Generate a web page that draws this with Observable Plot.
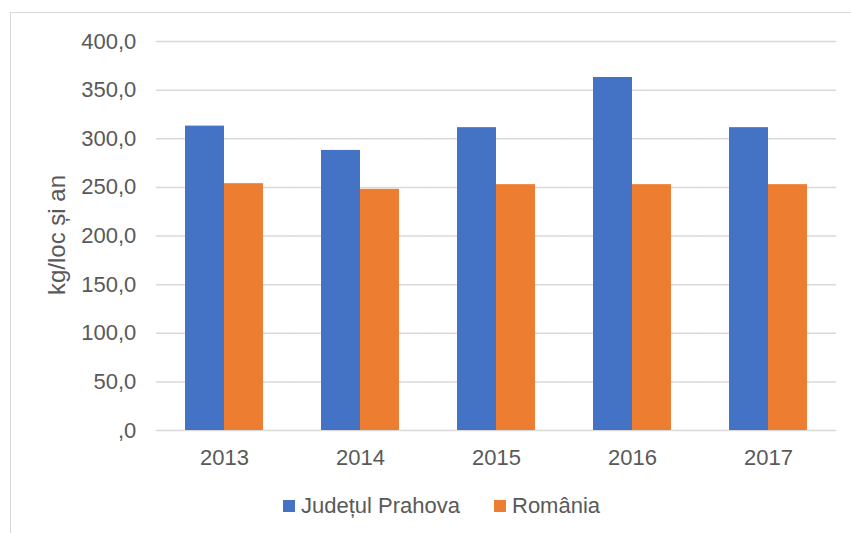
<!DOCTYPE html>
<html>
<head>
<meta charset="utf-8">
<script src="https://cdn.jsdelivr.net/npm/d3@7"></script>
<script src="https://cdn.jsdelivr.net/npm/@observablehq/plot@0.6"></script>
<style>
  html, body { margin: 0; padding: 0; background: #fff; }
  body { width: 851px; height: 533px; position: relative; overflow: hidden; font-family: "Liberation Sans", Arial, sans-serif; }
  #frame { position: absolute; left: 10px; top: 12px; width: 860px; height: 540px; border: 1.5px solid #d9d9d9; box-sizing: border-box; }
  #chart { position: absolute; left: 0; top: 0; }
  #ytitle { position: absolute; left: 57px; top: 235px; transform: translate(-50%, -50%) rotate(-90deg); font-size: 24px; color: #595959; white-space: nowrap; line-height: 28px; }
  #legend { position: absolute; left: 283px; top: 493px; display: flex; align-items: center; font-size: 22px; color: #595959; line-height: 26px; }
  #legend .item { display: flex; align-items: center; }
  #legend .sw { width: 12px; height: 12px; margin-right: 6px; }
</style>
</head>
<body>
<div id="frame"></div>
<div id="chart"></div>
<div id="ytitle"></div>
<div id="legend"></div>
<script>
const years = ["2013", "2014", "2015", "2016", "2017"];
const prahova = [313.0, 288.0, 311.4, 363.0, 311.4];
const romania = [253.8, 248.0, 252.8, 252.8, 252.8];
const seriesNames = ["Județul Prahova", "România"];
const seriesColors = ["#4472c4", "#ed7d31"];
const yTicks = [0, 50, 100, 150, 200, 250, 300, 350, 400];
const yTickLabels = [",0", "50,0", "100,0", "150,0", "200,0", "250,0", "300,0", "350,0", "400,0"];
const yTitle = "kg/loc și an";

const data = [];
years.forEach((yr, i) => {
  data.push({year: yr, series: seriesNames[0], value: prahova[i]});
  data.push({year: yr, series: seriesNames[1], value: romania[i]});
});

const textColor = "#595959";
const gridColor = "#d9d9d9";

const W = 851, ML = 155, MR = 14;
const padInner = 0.428, padOuter = padInner / 2;
const step = (W - ML - MR) / years.length;
const halfGap = step * padInner / 2;

const chart = Plot.plot({
  width: W,
  height: 480,
  marginLeft: ML,
  marginRight: MR,
  marginTop: 41,
  marginBottom: 50,
  style: {fontFamily: "'Liberation Sans', Arial, sans-serif", fontSize: "22px", color: textColor, background: "transparent"},
  fx: {domain: years, paddingInner: padInner, paddingOuter: padOuter, label: null},
  x: {domain: seriesNames, padding: 0, axis: null},
  y: {domain: [0, 400], ticks: yTicks},
  color: {domain: seriesNames, range: seriesColors},
  marks: [
    Plot.ruleY(yTicks, {y: d => d, stroke: gridColor, strokeWidth: 1.5, insetLeft: -halfGap, insetRight: -halfGap}),
    Plot.barY(data, {fx: "year", x: "series", y: "value", fill: "series"}),
    Plot.axisY({ticks: yTicks, tickFormat: (d) => yTickLabels[yTicks.indexOf(d)], tickSize: 0, tickPadding: 20 + halfGap, fontSize: 22, fill: textColor, label: null}),
    Plot.axisFx({anchor: "bottom", tickSize: 0, tickPadding: 19, fontSize: 22, fill: textColor, label: null})
  ]
});
document.getElementById("chart").appendChild(chart);
document.getElementById("ytitle").textContent = yTitle;

const legend = document.getElementById("legend");
seriesNames.forEach((name, i) => {
  const item = document.createElement("div");
  item.className = "item";
  if (i > 0) item.style.marginLeft = "34px";
  const sw = document.createElement("span");
  sw.className = "sw";
  sw.style.background = seriesColors[i];
  const label = document.createElement("span");
  label.textContent = name;
  item.appendChild(sw);
  item.appendChild(label);
  legend.appendChild(item);
});
</script>
</body>
</html>
